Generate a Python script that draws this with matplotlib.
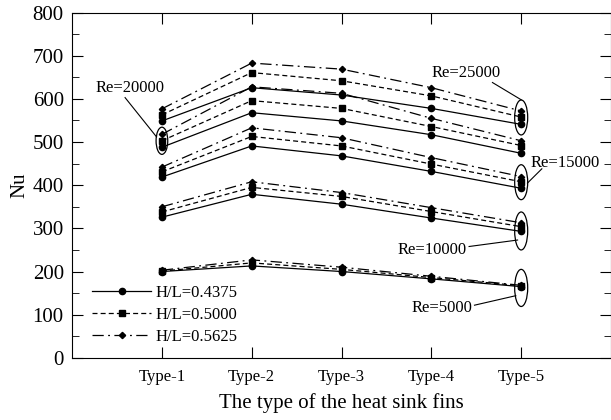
import numpy as np
import matplotlib
matplotlib.use('Agg')
import matplotlib.pyplot as plt
from matplotlib.patches import Ellipse

plt.rcParams['font.family'] = ['Liberation Serif', 'DejaVu Serif']
plt.rcParams['lines.linewidth'] = 0.9

types = ['Type-1', 'Type-2', 'Type-3', 'Type-4', 'Type-5']
re_values = [5000, 10000, 15000, 20000, 25000]

# Nu for each Re (rows) and fin type (columns)
nu_hl_04375 = [[200, 213, 200, 183, 165],
               [326, 379, 356, 324, 293],
               [419, 491, 468, 432, 393],
               [488, 568, 549, 517, 474],
               [549, 626, 609, 578, 541]]
nu_hl_05000 = [[201, 220, 205, 186, 167],
               [338, 395, 374, 339, 304],
               [431, 513, 491, 449, 408],
               [503, 596, 578, 536, 492],
               [563, 661, 642, 607, 558]]
nu_hl_05625 = [[203, 227, 210, 189, 168],
               [350, 408, 383, 348, 313],
               [442, 533, 510, 464, 420],
               [518, 628, 613, 555, 503],
               [577, 683, 669, 626, 572]]
hl_labels = ['H/L=0.4375', 'H/L=0.5000', 'H/L=0.5625']

x = np.arange(1, len(types) + 1)

fig = plt.figure(figsize=(6.11, 4.2), dpi=100)
ax = fig.add_axes([0.118, 0.148, 0.882, 0.822])

styles = [dict(ls='-', marker='o', ms=4.5),
          dict(ls=(0, (4, 2.5)), marker='s', ms=4.5),
          dict(ls=(0, (9, 3.5, 1.5, 3.5)), marker='D', ms=3.2)]
series = [nu_hl_04375, nu_hl_05000, nu_hl_05625]

for data, st, lab in zip(series, styles, hl_labels):
    for i, row in enumerate(data):
        ax.plot(x, row, color='black', linestyle=st['ls'], marker=st['marker'],
                markersize=st['ms'], label=lab if i == 0 else None)

# ellipses round the Re groups
ellipses = [(1, 503, 0.13, 63), (5, 557, 0.145, 81), (5, 407, 0.145, 81),
            (5, 294, 0.145, 88), (5, 162, 0.145, 86)]
for cx, cy, w, h in ellipses:
    ax.add_patch(Ellipse((cx, cy), w, h, fill=False, edgecolor='black', lw=0.9))

# labels with leader lines
notes = [('Re=20000', (0.64, 625), (0.59, 603), (0.94, 512)),
         ('Re=25000', (4.39, 660), (4.68, 638), (5.0, 598)),
         ('Re=15000', (5.49, 452), (5.23, 438), (5.07, 405)),
         ('Re=10000', (4.01, 250), (4.42, 258), (4.96, 273)),
         ('Re=5000', (4.12, 116), (4.48, 122), (4.94, 144))]
for txt, tpos, p0, p1 in notes:
    ax.text(tpos[0], tpos[1], txt, ha='center', va='center', fontsize=12)
    ax.plot([p0[0], p1[0]], [p0[1], p1[1]], color='black', lw=0.8)

ax.set_xlim(0, 6)
ax.set_ylim(0, 800)
ax.set_xticks(x)
ax.set_xticklabels(types, fontsize=12)
ax.set_yticks(np.arange(0, 801, 100))
ax.set_yticks(np.arange(0, 801, 50), minor=True)
ax.tick_params(axis='y', labelsize=15, pad=6)
ax.tick_params(axis='x', pad=8)
ax.tick_params(which='major', direction='in', length=8, top=True, right=True)
ax.tick_params(which='minor', direction='in', length=5, top=True, right=True)
ax.tick_params(axis='x', which='minor', top=False, bottom=False)
ax.set_xlabel('The type of the heat sink fins', fontsize=15, labelpad=6)
ax.set_ylabel('Nu', fontsize=15, labelpad=2)

ax.legend(loc='lower left', bbox_to_anchor=(0.010, -0.005), frameon=False,
          handlelength=3.5, fontsize=12, labelspacing=0.35, handletextpad=0.3)

plt.savefig('out.png', dpi=100)
